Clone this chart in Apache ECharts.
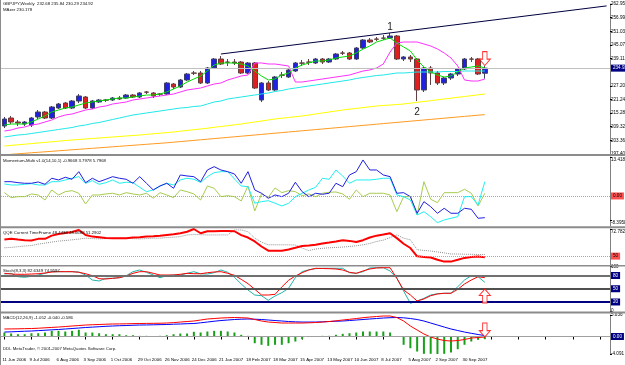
<!DOCTYPE html>
<html>
<head>
<meta charset="utf-8">
<script src="https://cdn.jsdelivr.net/npm/echarts@6.0.0/dist/echarts.min.js"></script>
<style>
html, body { margin: 0; padding: 0; background: #fff; }
#chart { width: 625px; height: 365px; }
</style>
</head>
<body>
<div id="chart"></div>
<script>
// weekly bars, GBPJPY
var weeks = ['11 Jun 2006','18 Jun 2006','25 Jun 2006','2 Jul 2006','9 Jul 2006','16 Jul 2006','23 Jul 2006','30 Jul 2006',
  '6 Aug 2006','13 Aug 2006','20 Aug 2006','27 Aug 2006','3 Sep 2006','10 Sep 2006','17 Sep 2006','24 Sep 2006',
  '1 Oct 2006','8 Oct 2006','15 Oct 2006','22 Oct 2006','29 Oct 2006','5 Nov 2006','12 Nov 2006','19 Nov 2006',
  '26 Nov 2006','3 Dec 2006','10 Dec 2006','17 Dec 2006','24 Dec 2006','31 Dec 2006','7 Jan 2007','14 Jan 2007',
  '21 Jan 2007','28 Jan 2007','4 Feb 2007','11 Feb 2007','18 Feb 2007','25 Feb 2007','4 Mar 2007','11 Mar 2007',
  '18 Mar 2007','25 Mar 2007','1 Apr 2007','8 Apr 2007','15 Apr 2007','22 Apr 2007','29 Apr 2007','6 May 2007',
  '13 May 2007','20 May 2007','27 May 2007','3 Jun 2007','10 Jun 2007','17 Jun 2007','24 Jun 2007','1 Jul 2007',
  '8 Jul 2007','15 Jul 2007','22 Jul 2007','29 Jul 2007','5 Aug 2007','12 Aug 2007','19 Aug 2007','26 Aug 2007',
  '2 Sep 2007','9 Sep 2007','16 Sep 2007','23 Sep 2007','30 Sep 2007','7 Oct 2007','14 Oct 2007','21 Oct 2007'];

// open, close, low, high
var candles = [
  [209.64,212.69,208.76,213.57],[213.13,211.38,210.51,214.01],[211.38,210.95,209.64,212.26],[210.51,211.38,209.64,211.82],
  [210.07,213.13,209.20,213.57],[213.57,215.75,212.69,216.63],[215.75,213.13,212.69,216.19],[213.13,217.94,212.69,218.38],
  [217.50,219.25,217.06,219.69],[219.69,217.50,217.06,220.12],[217.50,220.56,217.06,221.00],[220.56,222.75,219.69,223.62],
  [222.31,217.50,217.06,222.75],[217.50,220.56,217.06,221.00],[220.12,221.00,219.69,221.43],[221.00,220.90,220.12,221.43],
  [221.00,221.87,220.56,222.31],[221.87,221.43,221.00,222.75],[221.87,223.18,221.43,223.62],[223.18,222.31,221.87,223.62],
  [222.31,224.06,221.87,224.49],[224.49,224.40,223.62,224.93],[224.06,222.75,221.87,224.49],[223.62,223.55,222.75,224.06],
  [223.62,228.43,223.18,228.86],[227.99,226.68,225.80,228.43],[226.68,229.74,226.24,230.17],[229.74,232.36,229.30,232.80],
  [232.80,232.70,231.92,233.67],[232.80,228.43,227.99,233.67],[228.43,234.98,227.99,235.42],[234.98,238.91,234.54,239.35],
  [238.91,236.73,236.29,240.23],[237.60,237.50,235.86,238.91],[237.60,237.17,236.29,238.91],[237.60,232.80,232.36,238.04],
  [232.80,237.17,232.36,237.60],[237.17,226.24,225.80,237.60],[221.00,228.43,220.12,228.86],[228.43,225.37,224.93,229.30],
  [225.37,231.05,224.93,231.49],[231.92,231.80,230.61,233.23],[231.05,234.11,230.61,234.54],[233.67,237.17,233.23,237.60],
  [237.17,237.10,235.86,238.48],[237.60,237.50,236.29,238.91],[237.17,238.91,236.73,239.35],[238.91,237.60,236.73,239.35],
  [237.60,238.91,237.17,239.35],[238.91,241.10,238.48,241.54],[241.54,241.45,240.66,242.41],[241.54,238.91,238.48,241.97],
  [238.91,243.72,238.48,244.16],[243.72,247.22,243.28,247.65],[247.22,246.34,245.91,248.09],[247.65,247.55,246.78,248.53],
  [248.09,248.00,247.22,249.40],[248.09,248.97,247.65,250.28],[248.97,238.91,238.48,249.40],[238.91,239.79,238.04,240.23],
  [239.79,238.91,237.60,240.66],[238.91,225.37,220.50,239.35],[225.37,234.98,224.49,235.42],[234.98,232.80,227.55,235.86],
  [232.80,228.43,227.55,233.67],[228.43,230.61,227.55,231.05],[230.61,232.36,229.74,232.80],[232.36,234.54,231.49,234.98],
  [234.54,238.91,234.11,239.35],[238.91,238.85,237.60,239.79],[238.91,232.36,231.92,239.35],[232.68,234.92,230.29,235.84]
];

var maGreen = [210.07,210.51,210.51,210.51,211.38,212.69,214.01,215.75,216.63,217.50,217.94,218.81,219.69,220.12,220.56,221.00,
  221.43,221.87,221.87,222.31,222.75,223.18,223.18,223.62,224.49,225.80,227.12,228.86,230.17,231.49,233.67,236.29,
  237.17,237.17,237.17,236.73,235.86,233.67,231.49,229.74,230.17,231.92,232.80,234.98,236.29,237.17,238.04,238.04,
  238.48,239.35,239.79,240.23,241.54,243.28,244.60,246.34,247.22,248.09,245.91,244.16,242.41,238.48,235.42,233.23,
  231.92,231.05,231.49,233.23,234.98,235.42,235.86,234.98];

var maZer = [207.45,207.89,208.76,209.20,210.07,210.51,211.38,212.26,213.57,214.44,214.88,215.75,216.63,217.06,217.94,218.38,
  219.25,219.69,220.12,221.00,221.43,221.87,222.31,222.75,223.18,223.62,224.49,225.37,225.80,226.24,227.12,227.99,
  228.43,229.74,230.61,231.49,231.92,237.17,237.17,236.73,236.73,236.29,235.86,228.86,228.86,229.30,229.74,230.17,
  230.61,231.05,231.49,231.92,232.80,233.67,234.11,234.98,236.73,241.97,245.91,246.34,246.34,246.34,245.47,244.60,
  243.28,241.54,239.35,235.86,229.74,229.30,229.30,230.18];

var maCyan = [204.83,205.27,205.70,205.92,206.36,206.80,207.23,207.67,208.11,208.54,208.98,209.64,210.07,210.73,211.17,211.82,
  212.48,213.13,213.79,214.44,214.88,215.32,215.75,216.19,216.63,217.06,217.50,217.72,218.16,218.38,219.25,220.12,
  220.56,221.43,221.87,222.31,222.75,223.18,223.62,224.06,224.71,225.15,225.80,226.24,226.68,227.12,227.55,227.99,
  228.43,228.86,229.30,229.74,230.39,230.83,231.27,231.70,231.92,232.36,232.80,232.80,233.02,233.23,233.23,233.23,
  233.23,233.45,233.45,233.45,233.67,233.67,233.67,233.67];

var maYellow = [200.90,201.16,201.42,201.68,201.95,202.21,202.47,202.73,203.00,203.26,203.52,203.74,203.96,204.18,204.39,204.61,
  204.83,205.05,205.27,205.49,205.70,205.97,206.23,206.49,206.75,207.02,207.37,207.67,208.02,208.33,208.68,209.07,
  209.42,209.77,210.16,210.51,210.95,211.39,211.82,212.26,212.70,213.05,213.35,213.70,214.01,214.44,214.88,215.32,
  215.76,216.19,216.63,216.98,217.33,217.68,218.03,218.38,218.60,218.81,219.03,219.25,219.60,219.99,220.34,220.69,
  221.09,221.44,221.79,222.18,222.53,222.88,223.27,223.62];

var maOrange = [196.96,197.27,197.49,197.71,197.93,198.14,198.36,198.58,198.80,199.02,199.24,199.46,199.67,199.89,200.11,200.33,
  200.55,200.77,200.99,201.20,201.42,201.64,201.86,202.08,202.30,202.56,202.82,203.08,203.35,203.61,203.87,204.13,
  204.39,204.66,204.92,205.18,205.44,205.70,205.97,206.23,206.49,206.75,207.02,207.28,207.54,207.80,208.06,208.33,
  208.59,208.85,209.11,209.38,209.64,209.90,210.16,210.42,210.69,210.95,211.21,211.47,211.74,212.00,212.26,212.52,
  212.78,213.05,213.31,213.57,213.83,214.10,214.36,214.62];

var priceTicks = [262.95,256.99,251.03,245.07,239.11,227.20,221.24,215.28,209.32,203.36,197.40];

var momBlue = [4.92,4.92,4.58,4.37,4.37,4.82,4.03,6.10,5.51,6.44,5.75,8.37,4.58,6.10,4.92,5.75,
  6.65,6.10,5.75,4.37,6.65,4.37,2.07,3.44,4.37,2.65,7.23,6.89,6.65,4.92,8.95,10.09,
  8.95,8.37,7.58,4.37,8.37,2.07,0.93,-0.79,0.34,-0.24,0.93,4.72,1.48,-0.24,0.93,0.59,
  0.93,4.37,3.20,7.23,8.37,12.40,8.95,8.95,7.23,6.65,0.93,1.14,-0.24,-5.96,-1.96,-3.68,
  -5.96,-4.24,-5.96,-5.96,-4.24,-4.58,-7.68,-7.47];
var momCyan = [4.13,3.79,3.79,4.03,4.24,3.79,3.79,4.92,4.92,5.51,6.10,6.65,4.37,5.27,4.03,4.58,
  5.51,4.37,4.72,4.58,3.00,1.48,2.07,3.44,4.37,3.79,5.51,6.10,5.75,4.65,6.65,8.02,
  8.37,8.37,5.85,3.44,3.20,-2.51,-1.96,-1.62,-2.51,-3.44,-2.51,-0.24,0.93,2.07,3.00,6.10,
  5.75,8.95,6.89,4.37,5.51,5.51,5.51,5.75,6.10,6.10,0.34,-0.24,-1.38,-6.54,-5.41,-7.13,
  -9.19,-8.26,-7.68,-7.13,-0.24,-0.24,-3.10,4.92];
var momOlive = [1.14,-0.59,-0.24,-0.24,0.69,0.34,-1.38,2.07,0.34,1.48,1.83,0.93,-2.75,0.34,0.34,0.69,
  0.93,0.34,1.14,0.69,0.34,0.93,-0.79,1.14,0.34,-0.59,2.07,1.48,0.69,-1.38,3.44,2.65,
  -0.24,0.10,-0.24,-1.72,3.44,-5.17,0.69,-0.45,2.75,1.14,1.83,1.48,0.10,0.69,-0.24,0.93,
  1.27,1.38,0.69,-1.14,2.07,-0.24,0.93,0.93,0.93,0.34,-5.41,-0.24,-0.24,-6.54,4.92,-1.14,
  -2.31,1.14,1.14,1.14,2.31,0.93,-3.44,0.93];

var qqeLine = [63.9,64.5,63.9,63.4,63.1,64.5,64.5,67.2,68.6,69.5,70.3,72.0,67.8,66.4,65.9,65.3,
  65.1,65.1,65.1,65.6,65.9,66.4,66.7,67.2,67.8,68.4,69.2,70.5,72.8,69.2,70.9,70.9,
  71.1,71.1,70.9,67.6,65.6,62.3,58.1,54.6,54.6,54.6,55.6,57.0,58.5,58.9,59.5,60.6,
  61.4,62.3,63.4,62.8,61.8,63.4,65.6,67.2,68.1,69.2,65.1,60.4,56.8,49.8,49.3,48.8,
  46.9,45.4,45.4,46.9,48.5,49.3,49.6,49.0];
var qqeTrail = [57.0,57.3,57.9,58.5,58.9,60.1,60.9,61.8,62.6,63.1,63.7,64.3,65.1,64.7,64.5,64.7,
  65.1,65.1,65.1,64.7,64.5,64.7,65.1,65.1,65.6,65.9,66.4,67.8,68.1,68.0,67.8,67.8,
  67.8,67.8,72.0,72.0,70.5,65.1,61.8,59.5,59.5,59.5,59.5,59.3,56.8,54.6,56.0,56.5,
  57.0,57.3,57.6,58.1,58.7,59.5,60.6,62.3,63.4,65.6,67.8,65.1,63.7,55.4,54.8,54.3,
  53.5,52.7,51.8,51.8,51.6,51.5,51.4,51.3];

var stochK = [83.4,85.0,77.3,76.0,78.2,81.2,85.0,88.7,88.7,88.7,88.7,88.0,81.2,69.8,67.6,73.7,
  73.7,75.1,79.6,88.7,92.5,87.3,81.2,75.1,79.6,81.2,81.2,85.0,88.7,83.9,83.4,86.4,
  92.5,87.3,76.0,60.8,47.2,35.8,34.2,23.8,33.6,41.0,51.0,75.1,88.7,93.2,95.5,96.4,
  96.4,96.4,96.4,86.4,85.0,88.7,97.1,97.7,97.7,90.3,73.7,44.9,17.0,22.2,28.3,35.8,
  38.8,39.7,39.7,54.6,69.8,79.6,77.3,64.6];
var stochD = [85.0,83.4,82.8,82.8,83.4,84.1,85.7,88.0,88.7,88.7,88.7,87.3,84.1,79.6,72.8,72.1,
  73.7,75.1,78.9,85.0,88.7,88.7,85.0,81.2,81.2,81.2,82.8,85.0,84.1,84.0,86.4,88.0,
  88.7,85.0,80.5,71.4,61.5,48.8,35.8,35.8,37.4,54.0,69.2,78.9,86.4,92.5,96.4,95.9,
  95.5,94.8,92.5,87.3,85.0,90.3,94.8,97.1,97.7,97.7,73.7,47.2,35.8,22.2,26.8,34.2,
  38.1,39.7,39.7,48.8,60.8,69.8,77.3,75.1];

var macdMain = [1.76,1.78,1.80,1.85,1.87,1.94,2.04,2.13,2.22,2.34,2.46,2.57,2.69,2.76,2.81,2.88,
  2.93,2.95,2.97,3.02,3.04,3.07,3.09,3.11,3.16,3.25,3.39,3.51,3.63,3.86,4.10,4.21,
  4.33,4.40,4.45,4.40,4.33,3.98,3.63,3.39,3.28,3.16,3.16,3.16,3.16,3.21,3.28,3.39,
  3.51,3.67,3.86,4.03,4.21,4.40,4.56,4.68,4.80,4.80,4.45,3.63,2.46,1.52,0.59,-0.12,
  -0.59,-0.94,-1.05,-0.94,-0.70,-0.35,-0.23,-0.12];
var macdSignal = [1.05,1.10,1.17,1.24,1.29,1.38,1.47,1.57,1.64,1.76,1.87,1.99,2.11,2.20,2.29,2.39,
  2.46,2.53,2.57,2.64,2.69,2.71,2.74,2.78,2.81,2.88,2.93,3.00,3.04,3.21,3.39,3.58,
  3.74,3.86,3.98,4.05,4.10,4.05,3.98,3.86,3.74,3.63,3.51,3.44,3.39,3.39,3.39,3.44,
  3.51,3.58,3.63,3.74,3.86,3.98,4.10,4.21,4.33,4.40,4.45,4.38,4.21,3.98,3.63,3.16,
  2.69,2.22,1.76,1.40,1.05,0.75,0.47,0.23];
var macdHist = [0.94,0.70,0.54,0.54,0.77,0.77,0.94,1.33,1.33,1.17,1.33,1.57,0.94,0.94,0.77,0.54,
  0.54,0.54,0.30,0.30,0.16,0.16,-0.07,0.16,0.30,0.54,0.70,0.70,1.10,0.94,1.17,1.33,
  1.33,1.17,0.94,0.40,0.16,-1.57,-1.94,-2.18,-1.94,-1.94,-1.57,-1.17,-0.63,-0.12,0.07,0.16,
  0.16,0.40,0.63,0.77,0.94,1.17,1.17,1.17,1.17,0.94,0.05,-1.94,-2.74,-3.51,-4.05,-4.05,
  -4.28,-4.05,-3.74,-2.97,-1.94,-1.17,-0.77,-0.63];

// empty slots on the right (chart shift)
var cats = weeks.slice();
while (cats.length < 90) cats.push('');

var FONT = 'Liberation Sans';
var myChart = echarts.init(document.getElementById('chart'));

function xAx(i) {
    var ax = {
        type: 'category', gridIndex: i, data: cats, boundaryGap: true,
        axisLine: { show: false }, axisTick: { show: false },
        axisLabel: { show: false }, splitLine: { show: false }
    };
    if (i == 4) {
        ax.axisLabel = { show: true, interval: 3, showMinLabel: true, hideOverlap: false, align: 'left',
            margin: 4, fontSize: 4.4, fontFamily: FONT, color: '#000', padding: [0, 0, 0, -2] };
        ax.axisTick = { show: true, interval: 3, alignWithLabel: true, length: 3,
            lineStyle: { color: '#000' } };
    }
    return ax;
}

function yAx(i, min, max, ticks, fmt, vAlign) {
    return {
        type: 'value', gridIndex: i, position: 'right', min: min, max: max,
        splitLine: { show: false },
        axisLine: { show: true, lineStyle: { color: '#808080' } },
        axisTick: { show: true, length: 2, customValues: ticks, lineStyle: { color: '#000' } },
        axisLabel: { customValues: ticks, fontSize: 4.6, fontFamily: FONT, margin: 1, color: '#000',
            verticalAlign: vAlign || 'middle', formatter: fmt }
    };
}

function boxLine(val, text, lineColor, bg, fg, type) {
    return {
        silent: true, symbol: 'none', animation: false,
        lineStyle: { color: lineColor, width: 1, type: type || 'solid' },
        label: { show: true, position: 'end', formatter: text, fontSize: 4.6, fontFamily: FONT,
            color: fg, backgroundColor: bg, padding: [1, 2], distance: 1 },
        data: [{ yAxis: val }]
    };
}

function line(name, x, data, color, width, type) {
    return {
        name: name, type: 'line', xAxisIndex: x, yAxisIndex: x, data: data,
        showSymbol: false, smooth: false,
        lineStyle: { color: color, width: width || 1, type: type || 'solid' }
    };
}

var downArrow = 'path://M3,0 L7,0 L7,7 L10,7 L5,13 L0,7 L3,7 Z';
var upArrow = 'path://M5,0 L10,6 L7,6 L7,13 L3,13 L3,6 L0,6 Z';

function arrow(x, val, path) {
    return {
        type: 'scatter', xAxisIndex: x, yAxisIndex: x, symbol: path, symbolSize: [11, 14],
        itemStyle: { color: '#fff', borderColor: '#ff0000', borderWidth: 1 },
        data: [[71, val]], z: 10
    };
}

var small = { fontSize: 4.3, fontFamily: FONT, fill: '#101010' };
function txt(x, y, s) {
    return { type: 'text', left: x, top: y, style: Object.assign({ text: s }, small), z: 100 };
}
function sep(y, h) {
    return { type: 'rect', shape: { x: 0, y: y, width: 625, height: h }, style: { fill: '#8c8c8c' }, z: 90 };
}
function grid(top, height) {
    return { left: 1, right: 15, top: top, height: height, outerBoundsMode: 'none', containLabel: false };
}

var option = {
    animation: false,
    backgroundColor: '#fff',
    grid: [grid(4, 150), grid(157, 69), grid(229, 36), grid(266.7, 44.1), grid(315, 39)],
    xAxis: [xAx(0), xAx(1), xAx(2), xAx(3), xAx(4)],
    yAxis: [
        yAx(0, 197.40, 262.95, priceTicks, function (v) { return v.toFixed(2); }),
        yAx(1, -10.34, 13.4185, [13.4185, -8.3958], function (v) { return String(v); }, 'top'),
        yAx(2, 42.54, 72.782, [72.782], function (v) { return String(v); }, 'top'),
        yAx(3, 0, 100, [100, 0], function (v) { return String(v); }),
        yAx(4, -4.091, 5.036, [5.036, -4.091], function (v) { return v.toFixed(3); })
    ],
    graphic: [
        sep(154, 2), sep(226.3, 2), sep(265, 1.6), sep(311.5, 2),
        { type: 'rect', shape: { x: 0, y: 0, width: 1, height: 365 }, style: { fill: '#8c8c8c' }, z: 90 },
        txt(3, 2, 'GBPJPY,Weekly  232.68 235.84 230.29 234.92'),
        txt(3, 8, 'MAzer 230.178'),
        txt(3, 159, 'Momentum-Multi v1.0(14,10,1) -0.9668 3.7978 5.7968'),
        txt(3, 231, 'QQE Current TimeFrame 48.4439 48.6688 51.2902'),
        txt(3, 268.5, 'Stoch(8,3,3) 82.6349 74.9597'),
        txt(3, 315.5, 'MACD(12,26,9) -1.052 -0.040 -0.586'),
        txt(3, 347, 'DDL MetaTrader, \u00a9 2001-2007 MetaQuotes Software Corp.')
    ],
    series: [
        line('orange', 0, maOrange, '#ff9a20', 1),
        line('yellow', 0, maYellow, '#ffff00', 1),
        line('cyan', 0, maCyan, '#20e8e8', 1),
        line('mazer', 0, maZer, '#ff30ff', 1),
        {
            name: 'GBPJPY', type: 'candlestick', xAxisIndex: 0, yAxisIndex: 0, data: candles,
            barWidth: 5,
            itemStyle: { color: '#2020e0', color0: '#e02020', borderColor: '#404060', borderColor0: '#604040', borderWidth: 1 },
            markLine: {
                silent: true, symbol: 'none', animation: false,
                lineStyle: { type: 'solid', width: 1 },
                data: [
                    [{ coord: [32, 241.10], lineStyle: { color: '#000040', width: 1, type: 'solid' }, label: { show: false } },
                     { coord: [89, 262.12] }],
                    { yAxis: 234.92, lineStyle: { color: '#c0c0c0', width: 1, type: 'solid' },
                      label: { show: true, position: 'end', formatter: '234.92', fontSize: 4.6, fontFamily: FONT,
                          color: '#fff', backgroundColor: '#000080', padding: [1, 2], distance: 1 } }
                ]
            },
            markPoint: {
                symbol: 'circle', symbolSize: 0, silent: true,
                label: { show: true, fontSize: 10, fontFamily: FONT, color: '#202020' },
                data: [
                    { coord: [57, 252.6], value: '1', label: { formatter: '1' } },
                    { coord: [61, 215.8], value: '2', label: { formatter: '2' } }
                ]
            }
        },
        line('green', 0, maGreen, '#00e000', 1),
        arrow(0, 239.1, downArrow),

        Object.assign(line('momOlive', 1, momOlive, '#a8cc50', 1),
            { markLine: boxLine(0, '0.00', '#ff80a0', '#ff5050', '#000', 'dotted') }),
        line('momCyan', 1, momCyan, '#20f0f0', 1),
        line('momBlue', 1, momBlue, '#2020e0', 1),

        Object.assign(line('qqeTrail', 2, qqeTrail, '#909090', 1, 'dotted'),
            { markLine: boxLine(50, '50', '#ff80a0', '#ff5050', '#000', 'dotted') }),
        line('qqe', 2, qqeLine, '#ff0000', 2),

        Object.assign(line('stochK', 3, stochK, '#20b2aa', 1), {
            markLine: {
                silent: true, symbol: 'none', animation: false,
                label: { show: true, position: 'end', fontSize: 4.6, fontFamily: FONT, color: '#fff',
                    backgroundColor: '#000080', padding: [1, 2], distance: 1 },
                data: [
                    { yAxis: 80, lineStyle: { color: '#707070', width: 2, type: 'solid' }, label: { formatter: '80' } },
                    { yAxis: 50, lineStyle: { color: '#505050', width: 2, type: 'solid' }, label: { formatter: '50' } },
                    { yAxis: 20, lineStyle: { color: '#000080', width: 2, type: 'solid' }, label: { formatter: '20' } }
                ]
            }
        }),
        line('stochD', 3, stochD, '#ff0000', 1),
        arrow(3, 33.6, upArrow),

        {
            name: 'hist', type: 'bar', xAxisIndex: 4, yAxisIndex: 4, data: macdHist, barWidth: 2,
            itemStyle: { color: '#18a018' },
            markLine: boxLine(0, '0.00', '#a0a0a0', '#000080', '#fff')
        },
        line('signal', 4, macdSignal, '#0000ff', 1),
        line('macd', 4, macdMain, '#ff0000', 1),
        arrow(4, 1.52, downArrow)
    ]
};

myChart.setOption(option);
</script>
</body>
</html>
